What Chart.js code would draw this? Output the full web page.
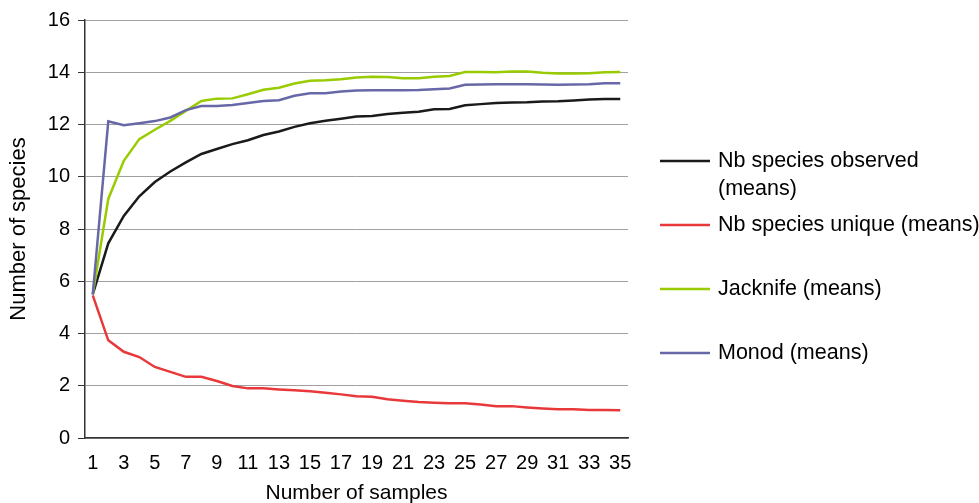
<!DOCTYPE html>
<html>
<head>
<meta charset="utf-8">
<script src="https://cdn.jsdelivr.net/npm/chart.js@4.4.1/dist/chart.umd.min.js"></script>
<style>
html, body { margin: 0; padding: 0; background: #fff; }
#wrap { width: 979px; height: 503px; }
</style>
</head>
<body>
<div id="wrap"><canvas id="speciesChart" width="979" height="503"></canvas></div>
<script>
// sample numbers on the x axis
var samples = ['1','2','3','4','5','6','7','8','9','10','11','12','13','14','15','16','17','18',
    '19','20','21','22','23','24','25','26','27','28','29','30','31','32','33','34','35'];

var seriesNames = ['Nb species observed (means)', 'Nb species unique (means)', 'Jacknife (means)', 'Monod (means)'];

var observed = [5.5, 7.45, 8.5, 9.25, 9.8, 10.2, 10.55, 10.87, 11.06, 11.25, 11.4, 11.6, 11.73, 11.91, 12.05, 12.14, 12.22, 12.31,
    12.33, 12.4, 12.45, 12.49, 12.58, 12.59, 12.74, 12.78, 12.82, 12.84, 12.85, 12.88, 12.89, 12.92, 12.96, 12.98, 12.98];
var unique = [5.46, 3.74, 3.3, 3.1, 2.72, 2.53, 2.34, 2.34, 2.18, 1.99, 1.9, 1.9, 1.86, 1.83, 1.79, 1.73, 1.67, 1.6,
    1.58, 1.48, 1.43, 1.38, 1.35, 1.33, 1.33, 1.28, 1.22, 1.22, 1.17, 1.13, 1.1, 1.1, 1.07, 1.07, 1.06];
var jacknife = [5.5, 9.15, 10.61, 11.44, 11.8, 12.14, 12.52, 12.9, 12.99, 13.0, 13.16, 13.33, 13.41, 13.57, 13.67, 13.69, 13.73, 13.8,
    13.83, 13.82, 13.77, 13.77, 13.83, 13.86, 14.01, 14.01, 14.0, 14.03, 14.03, 13.98, 13.95, 13.95, 13.96, 14.0, 14.01];
var monod = [5.5, 12.12, 11.97, 12.05, 12.13, 12.27, 12.55, 12.71, 12.71, 12.75, 12.82, 12.9, 12.93, 13.1, 13.2, 13.2, 13.26, 13.3,
    13.31, 13.31, 13.31, 13.32, 13.35, 13.38, 13.52, 13.53, 13.54, 13.54, 13.54, 13.53, 13.52, 13.53, 13.54, 13.58, 13.58];

var colors = ['#1a1a1a', '#e8383a', '#99cc00', '#6868a8'];
var FONT = '"Liberation Sans", Arial, sans-serif';

function wrapText(ctx, text, maxW) {
    var words = text.split(' ');
    var lines = [];
    var cur = '';
    for (var i = 0; i < words.length; i++) {
        var test = cur ? cur + ' ' + words[i] : words[i];
        if (cur && ctx.measureText(test).width > maxW) {
            lines.push(cur);
            cur = words[i];
        } else {
            cur = test;
        }
    }
    if (cur) lines.push(cur);
    return lines;
}

// legend on the right, wrapping long names like the original
var sideLegend = {
    id: 'sideLegend',
    afterDraw: function(chart) {
        var ctx = chart.ctx;
        var lineX = 660, lineLen = 50, textX = 718;
        var y = 161;
        ctx.save();
        ctx.font = '21.5px ' + FONT;
        ctx.textBaseline = 'middle';
        ctx.textAlign = 'left';
        chart.data.datasets.forEach(function(ds) {
            ctx.strokeStyle = ds.borderColor;
            ctx.lineWidth = 2.5;
            ctx.beginPath();
            ctx.moveTo(lineX, y);
            ctx.lineTo(lineX + lineLen, y);
            ctx.stroke();
            ctx.fillStyle = '#000';
            var lines = wrapText(ctx, ds.label, 268);
            for (var k = 0; k < lines.length; k++) {
                ctx.fillText(lines[k], textX, y + k * 28);
            }
            y += 64;
        });
        ctx.restore();
    }
};

function makeSet(i, values, order) {
    return {
        label: seriesNames[i],
        data: values,
        borderColor: colors[i],
        backgroundColor: colors[i],
        borderWidth: 2.5,
        pointRadius: 0,
        tension: 0,
        fill: false,
        order: order
    };
}

var ctx = document.getElementById('speciesChart').getContext('2d');
var chart = new Chart(ctx, {
    type: 'line',
    data: {
        labels: samples,
        datasets: [
            makeSet(0, observed, 4),
            makeSet(1, unique, 3),
            makeSet(2, jacknife, 2),
            makeSet(3, monod, 1)
        ]
    },
    options: {
        responsive: false,
        animation: false,
        devicePixelRatio: 1,
        layout: { padding: { left: 0, top: 19, right: 351, bottom: 0 } },
        plugins: {
            legend: { display: false },
            tooltip: { enabled: false }
        },
        scales: {
            x: {
                type: 'category',
                offset: true,
                grid: { display: false, drawTicks: false },
                border: { display: true, color: '#333', width: 1.5 },
                ticks: {
                    autoSkip: false,
                    maxRotation: 0,
                    color: '#000',
                    font: { family: FONT, size: 20 },
                    padding: 13,
                    callback: function(v, i) {
                        return i % 2 === 0 ? this.getLabelForValue(v) : '';
                    }
                },
                title: {
                    display: true,
                    text: 'Number of samples',
                    color: '#000',
                    font: { family: FONT, size: 21 },
                    padding: { top: 0, bottom: -3 }
                },
                afterFit: function(scale) { scale.height = 65; }
            },
            y: {
                min: 0,
                max: 16,
                grid: { color: '#a0a0a0', lineWidth: 1, tickLength: 7, tickColor: '#333' },
                border: { display: true, color: '#333', width: 1.5 },
                ticks: {
                    stepSize: 2,
                    color: '#000',
                    font: { family: FONT, size: 20 },
                    padding: 8
                },
                title: {
                    display: true,
                    text: 'Number of species',
                    color: '#000',
                    font: { family: FONT, size: 22 },
                    padding: { top: 6, bottom: 0 }
                },
                afterFit: function(scale) { scale.width = 85; }
            }
        }
    },
    plugins: [sideLegend]
});
</script>
</body>
</html>
